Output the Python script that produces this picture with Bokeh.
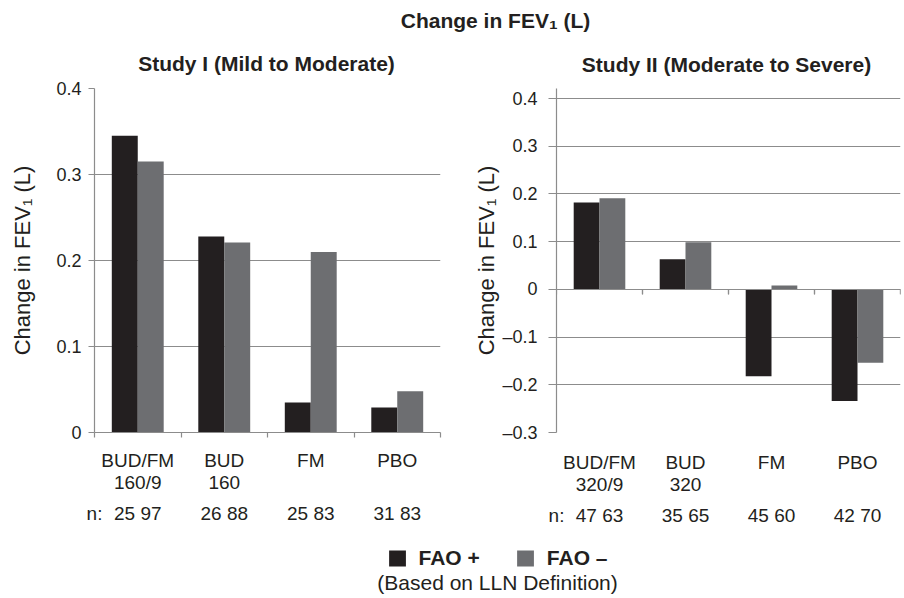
from bokeh.plotting import figure
from bokeh.models import (FixedTicker, LinearAxis, Range1d, Legend, LegendItem,
                          Label, Grid)
from bokeh.layouts import column, row
from bokeh.embed import file_html
from bokeh.resources import INLINE

# ---------------- data ----------------
main_title = "Change in FEV\u2081 (L)"
y_label = "Change in FEV\u2081 (L)"
study_titles = ["Study I (Mild to Moderate)", "Study II (Moderate to Severe)"]
categories_1 = ["BUD/FM\n160/9", "BUD\n160", "FM", "PBO"]
categories_2 = ["BUD/FM\n320/9", "BUD\n320", "FM", "PBO"]
n_label = "n:"
n_1 = ["25 97", "26 88", "25 83", "31 83"]
n_2 = ["47 63", "35 65", "45 60", "42 70"]
series_names = ["FAO +", "FAO \u2013"]
fao_pos_1 = [0.345, 0.228, 0.035, 0.029]
fao_neg_1 = [0.315, 0.221, 0.210, 0.048]
fao_pos_2 = [0.182, 0.063, -0.182, -0.234]
fao_neg_2 = [0.191, 0.099, 0.008, -0.154]
yticks_1 = [0, 0.1, 0.2, 0.3, 0.4]
ytick_labels_1 = ["0", "0.1", "0.2", "0.3", "0.4"]
yticks_2 = [-0.3, -0.2, -0.1, 0, 0.1, 0.2, 0.3, 0.4]
ytick_labels_2 = ["\u20130.3", "\u20130.2", "\u20130.1", "0", "0.1", "0.2", "0.3", "0.4"]
footnote = "(Based on LLN Definition)"

# ---------------- style ----------------
DARK = "#231f20"
GREY_BAR = "#6d6e71"
LINE = "#8c8c8c"
TEXT = "#231f20"
FONT = "Liberation Sans"
BAR_W = 0.3
PAGE_W = 904
BLOCK_LEFT = 90   # left border shared by the title and legend blocks


def panel(cats, ns, pos, neg, yticks, ylabels, y_end, width, border_left,
          border_right, tick_out, tick_standoff, label_standoff,
          cat_standoff, n_standoff, zero_axis):
    ncat = len(cats)
    p = figure(width=width, height=450, output_backend="svg", toolbar_location=None,
               title=None,
               x_range=Range1d(0, ncat), y_range=Range1d(min(yticks), y_end),
               x_axis_type=None, y_axis_type=None,
               min_border_left=border_left, min_border_right=border_right,
               min_border_top=8, min_border_bottom=98)
    p.outline_line_color = None
    p.background_fill_color = "white"
    p.border_fill_color = "white"

    # horizontal grid
    p.add_layout(Grid(dimension=1, ticker=FixedTicker(ticks=yticks),
                      grid_line_color=LINE, grid_line_width=1.2))

    # bars
    idx = list(range(ncat))
    p.vbar(x=[i + 0.5 - BAR_W / 2 for i in idx], top=pos, bottom=0, width=BAR_W,
           fill_color=DARK, line_color=None)
    p.vbar(x=[i + 0.5 + BAR_W / 2 for i in idx], top=neg, bottom=0, width=BAR_W,
           fill_color=GREY_BAR, line_color=None)

    # y axis
    yax = LinearAxis(ticker=FixedTicker(ticks=yticks),
                     major_label_overrides={t: l for t, l in zip(yticks, ylabels)},
                     axis_line_color=LINE, axis_line_width=1.2,
                     major_tick_line_color=LINE, major_tick_line_width=1.2,
                     major_tick_out=tick_out, major_tick_in=0,
                     minor_tick_line_color=None,
                     major_label_standoff=tick_standoff,
                     major_label_text_font=FONT, major_label_text_font_size="18px",
                     major_label_text_color=TEXT,
                     axis_label=y_label, axis_label_standoff=label_standoff,
                     axis_label_text_font=FONT, axis_label_text_font_size="22px",
                     axis_label_text_font_style="normal",
                     axis_label_text_color=TEXT)
    p.add_layout(yax, "left")

    centers = [i + 0.5 for i in idx]
    bounds = list(range(ncat + 1))
    if zero_axis:
        # category axis crossing at zero: only its boundary ticks
        zax = LinearAxis(ticker=FixedTicker(ticks=bounds), fixed_location=0,
                         axis_line_color=LINE, axis_line_width=1.2,
                         major_tick_line_color=LINE, major_tick_line_width=1.2,
                         major_tick_out=5, major_tick_in=0,
                         minor_tick_line_color=None,
                         major_label_text_color=None, major_label_text_font_size="1px")
        p.add_layout(zax, "below")
        # boundary tick marks hanging from the zero line (about 5px long)
        tick_len = 5 * (y_end - min(yticks)) / 344
        p.segment(x0=bounds[1:], y0=[0] * ncat, x1=bounds[1:], y1=[-tick_len] * ncat,
                  line_color=LINE, line_width=1.2)
        cat_ticker = FixedTicker(ticks=centers)
        cat_line = None
    else:
        cat_ticker = FixedTicker(ticks=centers, minor_ticks=bounds)
        cat_line = LINE

    cax = LinearAxis(ticker=cat_ticker,
                     major_label_overrides={c: l for c, l in zip(centers, cats)},
                     axis_line_color=cat_line, axis_line_width=1.2,
                     major_tick_line_color=None, major_tick_out=0, major_tick_in=0,
                     minor_tick_line_color=LINE, minor_tick_line_width=1.2,
                     minor_tick_out=5, minor_tick_in=0,
                     major_label_standoff=cat_standoff,
                     major_label_text_font=FONT, major_label_text_font_size="19px",
                     major_label_text_color=TEXT, major_label_text_line_height=1.05)
    p.add_layout(cax, "below")

    nticks = [0] + centers
    nax = LinearAxis(ticker=FixedTicker(ticks=nticks),
                     major_label_overrides={c: l for c, l in zip(nticks, [n_label] + ns)},
                     axis_line_color=None, major_tick_line_color=None,
                     major_tick_out=0, major_tick_in=0, minor_tick_line_color=None,
                     major_label_standoff=n_standoff,
                     major_label_text_font=FONT, major_label_text_font_size="19px",
                     major_label_text_color=TEXT)
    p.add_layout(nax, "below")
    return p


left = panel(categories_1, n_1, fao_pos_1, fao_neg_1, yticks_1,
             ytick_labels_1, y_end=0.4, width=460, border_left=94, border_right=20,
             tick_out=6, tick_standoff=7, label_standoff=18,
             cat_standoff=12, n_standoff=7, zero_axis=False)
# frames of a row share their top edge; the right panel's scale tops out at 0.4
# about 10px below that edge, as in the original
right = panel(categories_2, n_2, fao_pos_2, fao_neg_2, yticks_2,
              ytick_labels_2, y_end=0.421, width=444, border_left=96, border_right=4,
              tick_out=8, tick_standoff=11, label_standoff=0,
              cat_standoff=19, n_standoff=7, zero_axis=True)

# ---------------- titles block (x in page pixels) ----------------
top = figure(width=PAGE_W, height=80, output_backend="svg", toolbar_location=None,
             title=None, x_range=Range1d(BLOCK_LEFT, PAGE_W), y_range=Range1d(0, 80),
             x_axis_type=None, y_axis_type=None,
             min_border_left=BLOCK_LEFT, min_border_right=0,
             min_border_top=0, min_border_bottom=0)
top.outline_line_color = None
title_style = dict(text_align="center", text_baseline="middle", text_font=FONT,
                   text_font_size="21px", text_font_style="bold", text_color=TEXT)
top.add_layout(Label(x=495, y=60.5, text=main_title, **title_style))
top.add_layout(Label(x=266, y=17.5, text=study_titles[0], **title_style))
top.add_layout(Label(x=726, y=16.5, text=study_titles[1], **title_style))

# ---------------- legend block ----------------
bottom = figure(width=PAGE_W, height=68, output_backend="svg", toolbar_location=None,
                title=None, x_range=Range1d(0, 1), y_range=Range1d(0, 68),
                x_axis_type=None, y_axis_type=None,
                min_border_left=BLOCK_LEFT, min_border_right=0,
                min_border_top=0, min_border_bottom=0)
bottom.outline_line_color = None
# series renderers used only to feed the legend (hidden)
r_pos = bottom.vbar(x=list(range(len(fao_pos_1))), top=fao_pos_1, width=0.1,
                    fill_color=DARK, line_color=None, visible=False)
r_neg = bottom.vbar(x=list(range(len(fao_neg_1))), top=fao_neg_1, width=0.1,
                    fill_color=GREY_BAR, line_color=None, visible=False)
legend = Legend(items=[LegendItem(label=series_names[0], renderers=[r_pos], index=0),
                       LegendItem(label=series_names[1], renderers=[r_neg], index=0)],
                orientation="horizontal", location="top_center",
                glyph_width=21, glyph_height=20, label_standoff=11, spacing=35,
                padding=0, margin=16, border_line_color=None,
                background_fill_alpha=0, label_text_font=FONT,
                label_text_font_size="21px", label_text_font_style="bold",
                label_text_color=TEXT)
bottom.add_layout(legend)
bottom.add_layout(Label(x=0.5, y=16, text=footnote, text_align="center",
                        text_baseline="middle", text_font=FONT, text_font_size="21px",
                        text_color=TEXT))

layout = column(top, row(left, right), bottom)
open("out.html", "w").write(file_html(layout, INLINE))
